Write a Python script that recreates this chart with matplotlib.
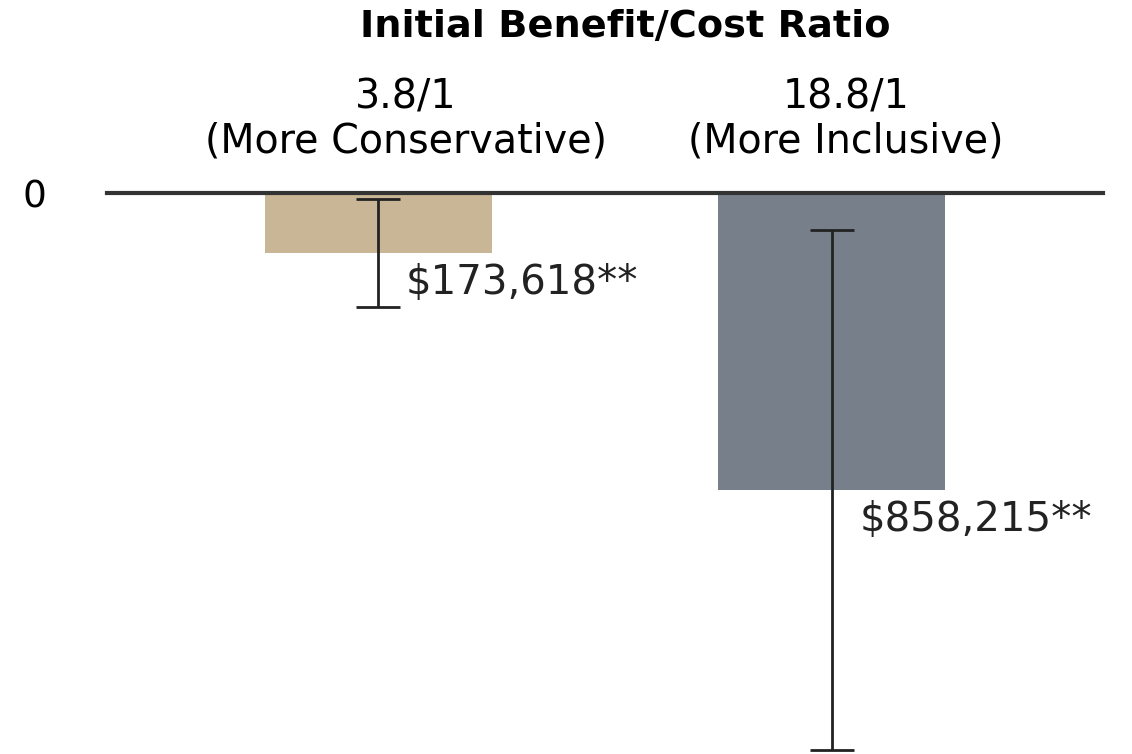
import numpy as np
import matplotlib.pyplot as plt

# data
categories = ["3.8/1\n(More Conservative)", "18.8/1\n(More Inclusive)"]
values = [173618, 858215]
errors = [157000, 752000]
value_labels = ["$173,618**", "$858,215**"]
bar_colors = ["#C8B696", "#77808A"]

plt.rcParams['font.family'] = ['DejaVu Sans']

fig = plt.figure(figsize=(11.32, 7.54), dpi=100)
# axes placed so the zero line sits where it does in the reference
ax = fig.add_axes([107 / 1132, 0, (1103 - 107) / 1132, (754 - 193) / 754])

x = np.arange(len(values))
ax.bar(x, values, width=0.5, color=bar_colors, zorder=1)
ax.errorbar(x, values, yerr=errors, fmt='none', ecolor='#222222',
            elinewidth=2, capsize=16, capthick=2, zorder=3)

ax.set_xlim(-0.597, 1.597)
ax.set_ylim(1.621e6, 0)

# zero line
ax.axhline(0, color='#333333', lw=3, zorder=2, clip_on=False)

for s in ax.spines.values():
    s.set_visible(False)
ax.set_xticks([])
ax.set_yticks([0])
ax.set_yticklabels(["0"], fontsize=27)
ax.tick_params(axis='y', length=0, pad=44)

# value labels beside error bars
for xi, v, lab in zip(x, values, value_labels):
    ax.annotate(lab, xy=(xi, v), xytext=(20, -7), textcoords='offset points',
                ha='left', va='top', fontsize=29, color='#222222')

# category labels above the zero line
label_shift = [0.062, 0.03]
for xi, cat, sh in zip(x, categories, label_shift):
    ax.annotate(cat, xy=(xi + sh, 0), xytext=(0, 23), textcoords='offset points',
                ha='center', va='bottom', fontsize=28.5, linespacing=1.12,
                annotation_clip=False)

fig.text(625 / 1132, 1 - 27 / 754, "Initial Benefit/Cost Ratio", ha='center', va='center',
         fontsize=27.5, fontweight='heavy', family='DejaVu Sans')

fig.savefig("out.png", dpi=100)
